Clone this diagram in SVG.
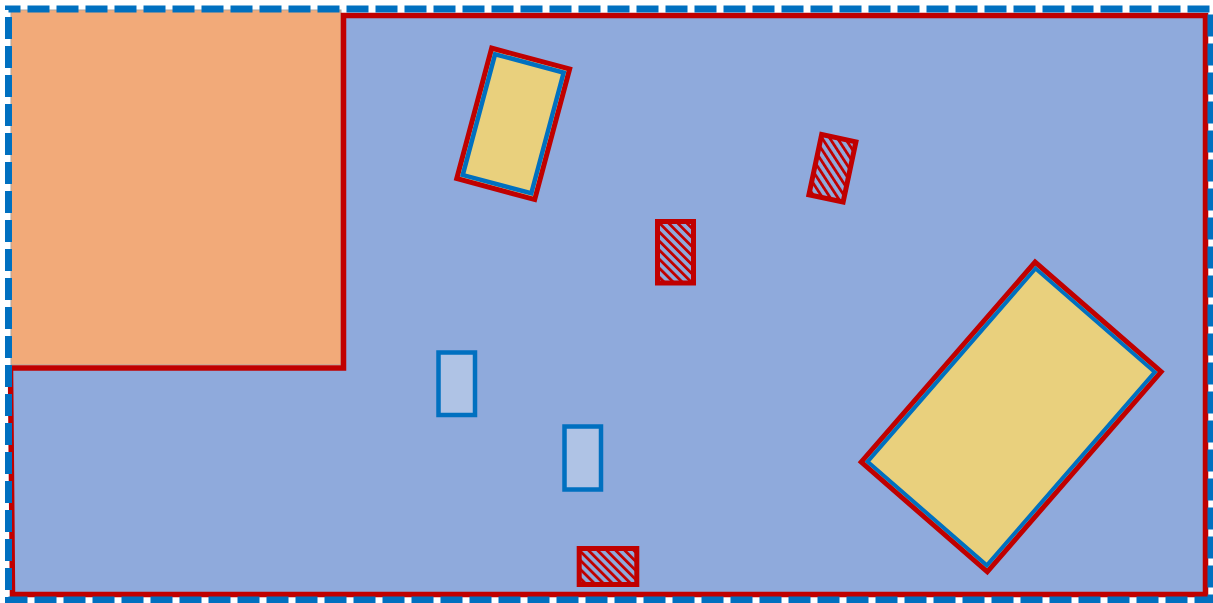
<svg xmlns="http://www.w3.org/2000/svg" width="1213" height="603" viewBox="0 0 1213 603">
  <defs>
    <pattern id="hatch" patternUnits="userSpaceOnUse" width="6.4" height="6.4" patternTransform="rotate(-45)">
      <rect x="0" y="0" width="6.4" height="6.4" fill="#8FAADC"/>
      <rect x="0" y="0" width="2.8" height="6.4" fill="#C00000"/>
    </pattern>
  </defs>
  <style>
    .blue { stroke: #0070C0; stroke-width: 4.5; }
    .hatched { fill: url(#hatch); stroke: #C00000; stroke-width: 5; }
    .window { fill: #AFC3E5; stroke: #0070C0; stroke-width: 4.5; }
    .table { fill: #E9D07D; }
  </style>
  <rect width="1213" height="603" fill="#FFFFFF"/>

  <g id="orange-room">
    <rect x="11" y="10" width="330" height="355" fill="#F2AA79" stroke="#A6A6A6" stroke-width="1"/>
  </g>

  <g id="blue-room">
    <polygon points="343.5,15.5 1205.5,15.5 1205.5,594.5 12.5,594.5 10.5,368 343.5,368" fill="#8FAADC" stroke="#C00000" stroke-width="5.5" stroke-linejoin="miter"/>
  </g>

  <g id="table-small" transform="translate(513.2,123.8) rotate(15)">
    <rect x="-40.35" y="-67.5" width="80.7" height="135" class="table" stroke="#C00000" stroke-width="5"/>
    <rect x="-35.5" y="-62.5" width="71" height="125" fill="none" class="blue"/>
  </g>

  <g id="table-large" transform="translate(1011.2,416.9) rotate(41)">
    <rect x="-83.5" y="-132.5" width="167" height="265" class="table" stroke="#C00000" stroke-width="5"/>
    <rect x="-79" y="-128" width="158" height="256" fill="none" stroke="#0070C0" stroke-width="4"/>
  </g>

  <g id="hatch-tilted" transform="translate(832.4,168.3) rotate(12)">
    <rect x="-17.5" y="-30.75" width="35" height="61.5" class="hatched"/>
  </g>

  <g id="hatch-upright">
    <rect x="657.5" y="221.5" width="36" height="61.5" class="hatched"/>
  </g>

  <g id="hatch-bottom">
    <rect x="579.2" y="548.5" width="57.6" height="36" class="hatched"/>
  </g>

  <g id="window-1">
    <rect x="438.5" y="352.5" width="36.5" height="62.5" class="window"/>
  </g>

  <g id="window-2">
    <rect x="564.5" y="426.5" width="36.5" height="63" class="window"/>
  </g>

  <g id="boundary">
    <rect x="8.5" y="9" width="1202.5" height="591" fill="none" stroke="#0070C0" stroke-width="7" stroke-dasharray="22 7" stroke-dashoffset="10"/>
  </g>
</svg>
